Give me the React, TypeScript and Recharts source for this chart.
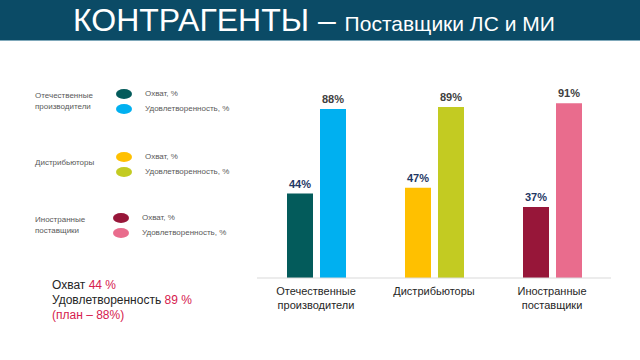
import React from "react";
import { BarChart, Bar, XAxis, YAxis, Cell, LabelList } from "recharts";

const categories = ["Отечественные производители", "Дистрибьюторы", "Иностранные поставщики"];
const coverage = [44, 47, 37];
const satisfaction = [88, 89, 91];

const coverageColors = ["#035B5B", "#FFC000", "#971639"];
const satisfactionColors = ["#00B0F0", "#C3CB22", "#E96C8D"];

const legendNames = ["Охват, %", "Удовлетворенность, %"];

const data = categories.map((name, i) => ({
  name,
  coverage: coverage[i],
  satisfaction: satisfaction[i],
}));

const FONT = "'Liberation Sans', Arial, sans-serif";

const CategoryTick = (props: any) => {
  const { x, y, payload } = props;
  const words = String(payload.value).split(" ");
  return (
    <g transform={`translate(${x},${y})`}>
      {words.map((w: string, i: number) => (
        <text
          key={w}
          x={0}
          y={9 + i * 14}
          textAnchor="middle"
          fontSize={11}
          fill="#262626"
          fontFamily={FONT}
        >
          {w}
        </text>
      ))}
    </g>
  );
};

// left legend, one block per category (page coords)
const LEGEND_ROWS = [
  { top: 89, labelTop: 90, dotLeft: 116 },
  { top: 152, labelTop: 157, dotLeft: 116 },
  { top: 213, labelTop: 214, dotLeft: 113 },
];

const SideLegend = () => (
  <div style={{ position: "absolute", left: 0, top: 0, fontFamily: FONT }}>
    {categories.map((cat, i) => {
      const row = LEGEND_ROWS[i];
      const words = cat.split(" ");
      return (
        <React.Fragment key={cat}>
          <div
            style={{
              position: "absolute",
              left: 35,
              top: row.labelTop,
              fontSize: 8,
              lineHeight: "11px",
              color: "#595959",
            }}
          >
            {words.map((w) => (
              <div key={w}>{w}</div>
            ))}
          </div>
          {[coverageColors[i], satisfactionColors[i]].map((c, j) => (
            <React.Fragment key={c}>
              <div
                style={{
                  position: "absolute",
                  left: row.dotLeft,
                  top: row.top + j * 15,
                  width: 16,
                  height: 10,
                  borderRadius: "50%",
                  background: c,
                }}
              />
              <div
                style={{
                  position: "absolute",
                  left: row.dotLeft + 29,
                  top: row.top - 1 + j * 15,
                  fontSize: 8,
                  lineHeight: "11px",
                  color: "#595959",
                  whiteSpace: "nowrap",
                }}
              >
                {legendNames[j]}
              </div>
            </React.Fragment>
          ))}
        </React.Fragment>
      );
    })}
  </div>
);

export default function App() {
  return (
    <div style={{ position: "relative", width: 640, height: 360, background: "#fff", overflow: "hidden" }}>
      <style>{"body{margin:0}"}</style>
      <div
        style={{
          position: "absolute",
          left: 0,
          top: 0,
          width: 640,
          height: 40,
          background: "#0B4B66",
          borderBottom: "1px solid #7FA8BA",
          color: "#fff",
          fontFamily: FONT,
          whiteSpace: "nowrap",
        }}
      >
        <span
          style={{
            position: "absolute",
            left: 73,
            top: 2,
            fontSize: 32,
            lineHeight: "36px",
          }}
        >
          КОНТРАГЕНТЫ –{" "}
          <span style={{ fontSize: 21 }}>Поставщики ЛС и МИ</span>
        </span>
      </div>

      <SideLegend />

      <div style={{ position: "absolute", left: 0, top: 0 }}>
        <BarChart
          width={640}
          height={360}
          data={data}
          margin={{ top: 86, right: 29, bottom: 42, left: 257 }}
          barSize={26}
          barGap={7}
        >
          <XAxis
            dataKey="name"
            height={40}
            axisLine={{ stroke: "#D9D9D9" }}
            tickLine={false}
            interval={0}
            tick={<CategoryTick />}
          />
          <YAxis hide domain={[0, 100]} />
          <Bar dataKey="coverage" name="Охват, %" isAnimationActive={false}>
            {data.map((d, i) => (
              <Cell key={`cov-${d.name}`} fill={coverageColors[i]} />
            ))}
            <LabelList
              dataKey="coverage"
              position="top"
              offset={6}
              formatter={(v: any) => `${v}%`}
              fill="#1F3864"
              fontSize={11}
              fontWeight="bold"
              fontFamily={FONT}
            />
          </Bar>
          <Bar dataKey="satisfaction" name="Удовлетворенность, %" isAnimationActive={false}>
            {data.map((d, i) => (
              <Cell key={`sat-${d.name}`} fill={satisfactionColors[i]} />
            ))}
            <LabelList
              dataKey="satisfaction"
              position="top"
              offset={6}
              formatter={(v: any) => `${v}%`}
              fill="#404040"
              fontSize={11}
              fontWeight="bold"
              fontFamily={FONT}
            />
          </Bar>
        </BarChart>
      </div>

      <div
        style={{
          position: "absolute",
          left: 52,
          top: 278,
          fontSize: 12,
          lineHeight: "15px",
          color: "#262626",
          fontFamily: FONT,
        }}
      >
        <div>
          Охват <span style={{ color: "#D6204E" }}>44 %</span>
        </div>
        <div>
          Удовлетворенность <span style={{ color: "#D6204E" }}>89 %</span>
        </div>
        <div style={{ color: "#D6204E" }}>(план – 88%)</div>
      </div>
    </div>
  );
}
